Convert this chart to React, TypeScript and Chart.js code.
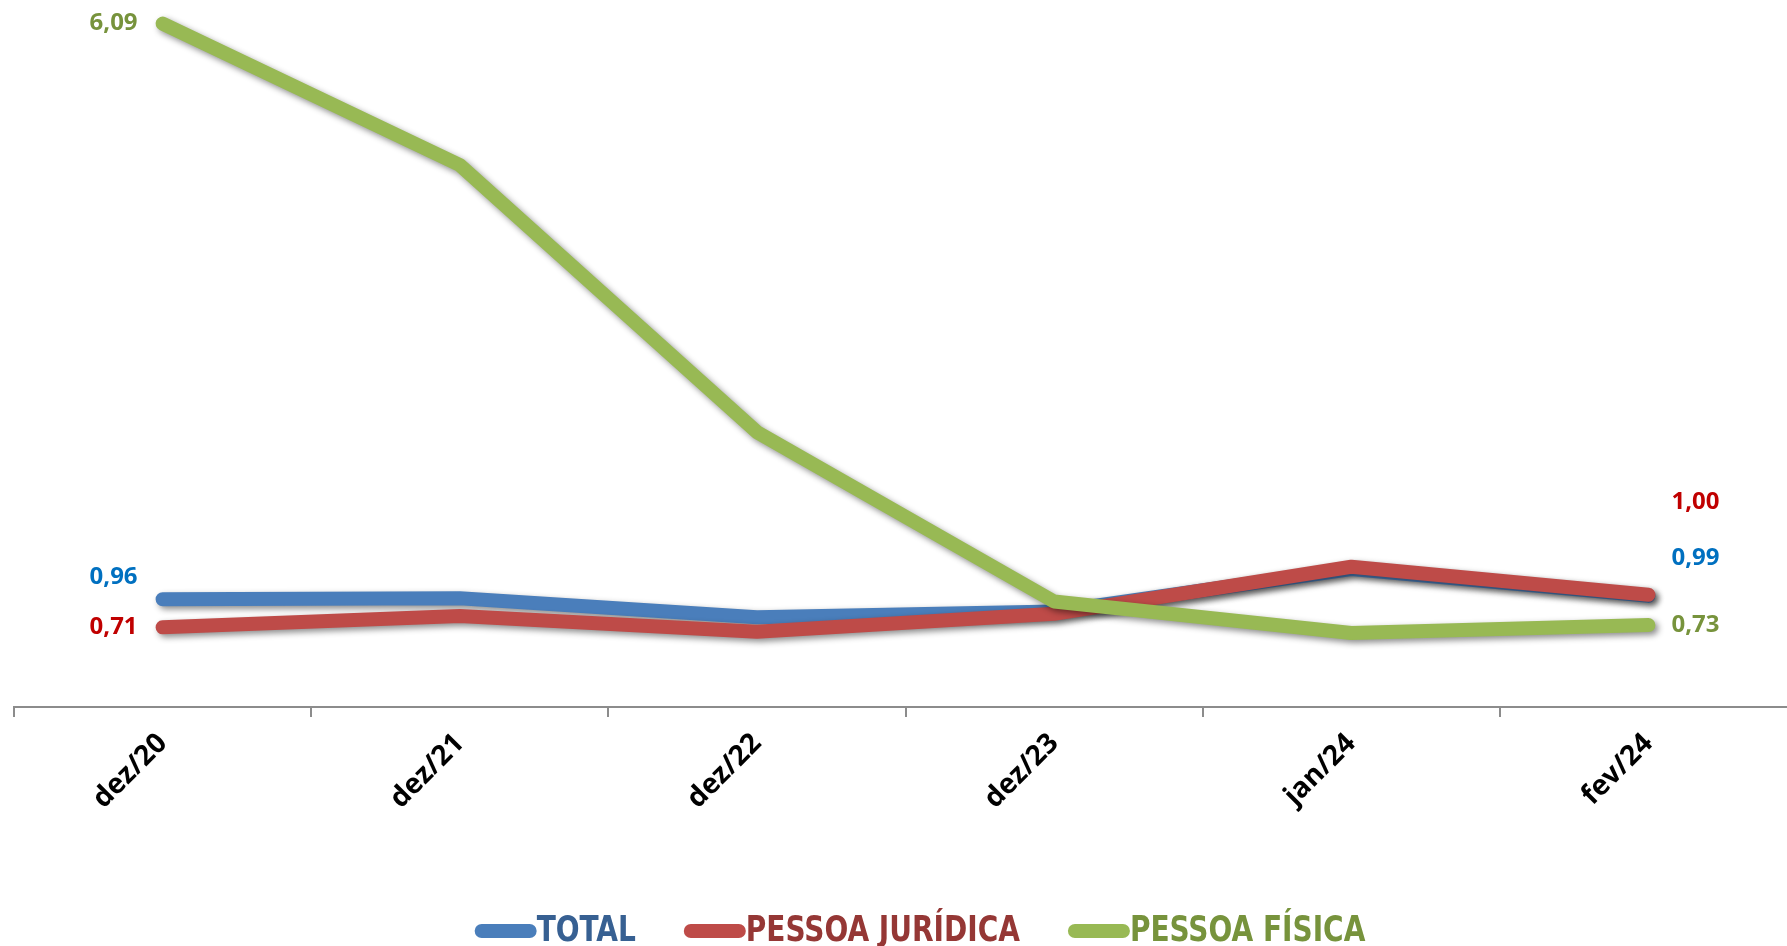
import React, { useEffect, useRef } from "react";
import { Chart, registerables } from "chart.js";

Chart.register(...registerables);

const categories = ["dez/20", "dez/21", "dez/22", "dez/23", "jan/24", "fev/24"];
const totalValues = [0.96, 0.97, 0.8, 0.85, 1.23, 0.99];
const juridicaValues = [0.71, 0.81, 0.67, 0.83, 1.25, 1.0];
const fisicaValues = [6.09, 4.83, 2.45, 0.94, 0.66, 0.73];
const seriesNames = ["TOTAL", "PESSOA JURÍDICA", "PESSOA FÍSICA"];

const lineColors = ["#4A7EBB", "#BE4B48", "#98B954"];
const valueLabelColors = ["#0070C0", "#C00000", "#77933C"];
const legendTextColors = ["#376092", "#953735", "#77933C"];
// vertical offsets (px) of first/last value labels relative to their point
const labelOffsets = [
  { first: -22, last: -38 },
  { first: 0, last: -93 },
  { first: 0, last: 0 },
];

const fmt = (v: number) => v.toFixed(2).replace(".", ",");

const shadowPlugin = {
  id: "lineShadow",
  beforeDatasetDraw(chart: any) {
    const ctx = chart.ctx;
    ctx.save();
    ctx.shadowColor = "rgba(0,0,0,0.45)";
    ctx.shadowBlur = 6;
    ctx.shadowOffsetX = 3;
    ctx.shadowOffsetY = 3;
  },
  afterDatasetDraw(chart: any) {
    chart.ctx.restore();
  },
};

const valueLabelPlugin = {
  id: "valueLabels",
  afterDatasetsDraw(chart: any) {
    const ctx = chart.ctx;
    ctx.save();
    ctx.font = "bold 24px 'Open Sans'";
    ctx.textBaseline = "middle";
    chart.data.datasets.forEach((ds: any, i: number) => {
      const meta = chart.getDatasetMeta(i);
      const pts = meta.data;
      if (!pts.length) return;
      const first = pts[0];
      const last = pts[pts.length - 1];
      ctx.fillStyle = valueLabelColors[i];
      ctx.textAlign = "right";
      ctx.fillText(fmt(ds.data[0]), first.x - 25, first.y + labelOffsets[i].first);
      ctx.textAlign = "left";
      ctx.fillText(fmt(ds.data[ds.data.length - 1]), last.x + 23, last.y + labelOffsets[i].last);
    });
    ctx.restore();
  },
};

const legendPlugin = {
  id: "customLegend",
  afterDraw(chart: any) {
    const ctx = chart.ctx;
    ctx.save();
    ctx.font = "bold 36px 'DejaVu Sans Condensed', sans-serif";
    ctx.textBaseline = "middle";
    ctx.textAlign = "left";
    const condense = 0.865;
    const swatch = 62;
    const gap = 48;
    const items = chart.data.datasets.map((ds: any, i: number) => ({
      text: ds.label,
      w: ctx.measureText(ds.label).width * condense,
      i,
    }));
    const total = items.reduce((s: number, it: any) => s + swatch + it.w, 0) + gap * (items.length - 1);
    let x = 920 - total / 2;
    const y = 931;
    items.forEach((it: any) => {
      ctx.strokeStyle = lineColors[it.i];
      ctx.lineWidth = 14;
      ctx.lineCap = "round";
      ctx.beginPath();
      ctx.moveTo(x + 7, y);
      ctx.lineTo(x + swatch - 7, y);
      ctx.stroke();
      ctx.fillStyle = legendTextColors[it.i];
      ctx.save();
      ctx.translate(x + swatch, y + 1);
      ctx.scale(condense, 1);
      ctx.fillText(it.text, 0, 0);
      ctx.restore();
      x += swatch + it.w + gap;
    });
    ctx.restore();
  },
};

export default function App() {
  const ref = useRef<HTMLCanvasElement | null>(null);

  useEffect(() => {
    if (!ref.current) return;
    const mk = (label: string, data: number[], i: number, order: number) => ({
      label,
      data,
      borderColor: lineColors[i],
      backgroundColor: lineColors[i],
      borderWidth: 14,
      borderCapStyle: "round" as const,
      borderJoinStyle: "round" as const,
      pointRadius: 0,
      tension: 0,
      clip: false as const,
      order,
    });
    const chart = new Chart(ref.current, {
      type: "line",
      data: {
        labels: categories,
        datasets: [
          mk(seriesNames[0], totalValues, 0, 3),
          mk(seriesNames[1], juridicaValues, 1, 2),
          mk(seriesNames[2], fisicaValues, 2, 1),
        ],
      },
      options: {
        animation: false,
        responsive: true,
        maintainAspectRatio: false,
        layout: { padding: { left: 14, right: 3, top: 0, bottom: 89 } },
        plugins: {
          legend: { display: false },
          tooltip: { enabled: false },
        },
        scales: {
          x: {
            offset: true,
            grid: {
              offset: true,
              display: true,
              drawOnChartArea: false,
              drawTicks: true,
              tickLength: 10,
              color: "#8C8C8C",
              lineWidth: 2,
            },
            border: { display: true, color: "#8C8C8C", width: 2 },
            ticks: {
              color: "#000",
              font: { family: "'Open Sans'", size: 28, weight: "bold" },
              minRotation: 45,
              maxRotation: 45,
              padding: 10,
              autoSkip: false,
            },
            afterFit: (scale: any) => {
              scale.height = 150;
            },
          },
          y: {
            display: false,
            min: 0,
            max: 6.3,
          },
        },
      },
      plugins: [shadowPlugin, valueLabelPlugin, legendPlugin],
    });
    return () => chart.destroy();
  }, []);

  return (
    <div
      style={{
        position: "fixed",
        left: 0,
        top: 0,
        width: "1787px",
        height: "946px",
        overflow: "hidden",
        background: "#fff",
      }}
    >
      <div style={{ position: "relative", width: "1800px", height: "946px" }}>
        <canvas ref={ref} />
      </div>
    </div>
  );
}
